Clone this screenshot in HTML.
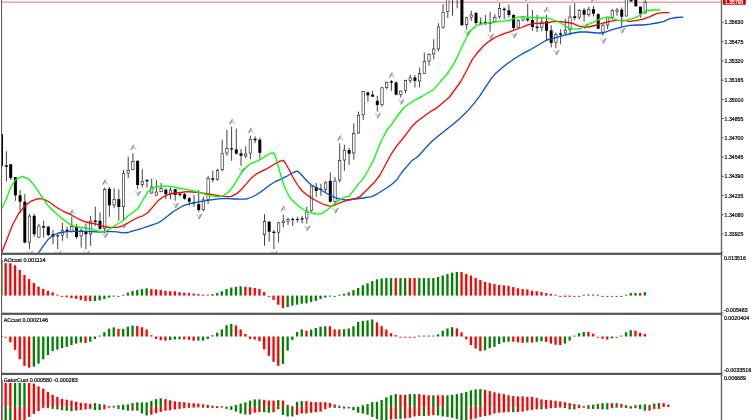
<!DOCTYPE html>
<html lang="en"><head><meta charset="utf-8"><title>Chart</title>
<style>html,body{margin:0;padding:0;background:#fff;overflow:hidden}svg{display:block;will-change:transform}text{font-family:"Liberation Sans", sans-serif}</style></head><body>
<svg width="752" height="420" viewBox="0 0 752 420">
<rect x="0" y="0" width="752" height="420" fill="#fff"/>
<defs>
<clipPath id="cm"><rect x="2.0" y="0" width="719.2" height="252.8"/></clipPath>
<clipPath id="c1"><rect x="2.0" y="254.8" width="719.2" height="58"/></clipPath>
<clipPath id="c2"><rect x="2.0" y="314.8" width="719.2" height="58.1"/></clipPath>
<clipPath id="c3"><rect x="2.0" y="374.9" width="719.2" height="45.1"/></clipPath>
<filter id="bl" x="-2%" y="-2%" width="104%" height="104%"><feGaussianBlur stdDeviation="0.33"/></filter>
<filter id="bl2" x="-2%" y="-2%" width="104%" height="104%"><feGaussianBlur stdDeviation="0.28"/></filter>
</defs>
<g filter="url(#bl)">
<g clip-path="url(#cm)">
<line x1="0" y1="2.15" x2="721.4" y2="2.15" stroke="#f3a1a1" stroke-width="1.5"/>
<path d="M1.3,134.3 V166 M6.4,151.3 V181.3 M10.7,164 V180 M15.4,177 V200.8 M20.1,190 V213.3 M24.8,194.2 V243.3 M29.5,214.2 V249.2 M34.2,213.7 V236.7 M38.9,223.7 V237.8 M43.6,220.8 V237.5 M48.3,225.8 V236.3 M53,230 V244.2 M57.7,233.3 V249.2 M62.4,222.5 V240.8 M67.1,226.7 V238.3 M71.8,216.7 V232.5 M76.5,224.2 V238.7 M81.2,228.7 V247.5 M85.9,223.3 V249.2 M90.6,215.8 V245.8 M95.3,206.7 V225.8 M100,212.5 V229.7 M104.7,187.5 V233.3 M109.4,187 V216.7 M114.1,188.3 V208.3 M118.8,189.2 V220.8 M123.5,170 V220.8 M128.2,156.7 V178 M132.9,153.3 V170.3 M137.6,160.5 V189.2 M142.3,169.2 V187.5 M147,179.2 V187.5 M151.7,178.7 V193.6 M156.4,180 V195.8 M161.1,183 V192.3 M165.8,188.7 V199.2 M170.5,187.5 V199.2 M175.2,189 V200.8 M179.9,193 V196.7 M184.6,193 V199.7 M189.3,196.7 V205.8 M194,195 V206.7 M198.7,190 V212 M203.4,196.7 V211.3 M208.1,175.8 V204 M212.8,170.8 V182.5 M217.5,168.7 V180.8 M222.2,139.7 V171.3 M226.9,129.9 V155.6 M231.6,126.6 V160.8 M236.3,128.6 V154.5 M241,149 V165.8 M245.7,146.3 V158.3 M250.4,135.8 V159.2 M255.1,136.4 V143.2 M259.8,137.7 V158.7 M264.5,214.2 V245.8 M269.2,220.8 V241.7 M273.9,230 V249.2 M278.6,222.3 V242.5 M283.3,214.7 V227.5 M288,217.5 V225 M292.7,217.5 V225.8 M297.4,216.7 V222.5 M302.1,215.8 V223.3 M306.8,206.7 V223.7 M311.5,185.5 V211.7 M316.2,183 V196.7 M320.9,183.7 V195.8 M325.6,181.3 V193 M330.3,172.5 V202.5 M335,177 V204.2 M339.7,143.3 V182.5 M344.4,144.7 V170.8 M349.1,148 V165 M353.8,123.3 V159.7 M358.5,111.7 V133.6 M363.2,91 V120 M367.9,91.3 V101.7 M372.6,90.8 V96.7 M377.3,95.8 V111.7 M382,86.7 V106.7 M386.7,81.7 V89.2 M391.4,80 V90.8 M396.1,81.3 V95.3 M400.8,90.5 V97.5 M405.5,79.7 V93.3 M410.2,74.7 V83.3 M414.9,75 V87.5 M419.6,67.5 V87.5 M424.3,52.5 V74 M429,53.3 V65.8 M433.7,39.2 V59.2 M438.4,23.3 V51.3 M443.1,4.2 V28.7 M447.8,-5 V18 M452.5,-5 V15.8 M457.2,-5 V8.3 M461.9,-5 V25.6 M466.6,16.7 V29.7 M471.3,10.8 V20.8 M476,11.7 V25 M480.7,17.5 V24.2 M485.4,15 V25 M490.1,11.7 V31.7 M494.8,14.2 V22.3 M499.5,3 V18.7 M504.2,7.5 V19.2 M508.9,4.7 V17.5 M513.6,14.2 V30 M518.3,19.2 V28.3 M523,15.8 V21.3 M527.7,3.7 V21.7 M532.4,10 V30.8 M537.1,14.7 V32 M541.8,17.5 V31.3 M546.5,14.7 V40.8 M551.2,25.3 V47.5 M555.9,32.5 V48.3 M560.6,29.2 V44.2 M565.3,18.7 V35 M570,5.3 V35.3 M574.7,3 V20.3 M579.4,9.2 V19.2 M584.1,8 V21.7 M588.8,6.7 V16.7 M593.5,6 V16.5 M598.2,13.3 V29.2 M602.9,23.3 V35.8 M607.6,16.7 V29.2 M612.3,9.2 V18.3 M617,8 V15.8 M621.7,7.5 V26.7 M626.4,-5 V16.6 M631.1,-5 V1.5 M635.8,-5 V6.6 M640.5,6.5 V17.5 M645.2,-1 V13.5" stroke="#2e2e2e" stroke-width="0.9" fill="none"/>
<g fill="#000"><rect x="-0.2" y="134.3" width="3" height="31.7"/><rect x="4.9" y="165.4" width="3" height="1.4"/><rect x="9.2" y="164.3" width="3" height="13.7"/><rect x="13.9" y="177.2" width="3" height="18.1"/><rect x="18.6" y="195.3" width="3" height="6.4"/><rect x="23.3" y="201.7" width="3" height="40.8"/><rect x="32.7" y="215.8" width="3" height="18.4"/><rect x="42.1" y="226.2" width="3" height="1.5"/><rect x="46.8" y="226.7" width="3" height="8.3"/><rect x="51.5" y="234.2" width="3" height="2.5"/><rect x="56.2" y="235.3" width="3" height="1"/><rect x="65.6" y="229.7" width="3" height="2"/><rect x="75" y="226.3" width="3" height="10.7"/><rect x="84.4" y="231.7" width="3" height="2.5"/><rect x="93.8" y="220.5" width="3" height="1.5"/><rect x="98.5" y="220.8" width="3" height="7.9"/><rect x="107.9" y="188.7" width="3" height="16.6"/><rect x="117.3" y="199.2" width="3" height="7.8"/><rect x="136.1" y="160.8" width="3" height="24.2"/><rect x="145.5" y="180" width="3" height="1.3"/><rect x="164.3" y="189.7" width="3" height="4.5"/><rect x="173.7" y="189.2" width="3" height="5.8"/><rect x="178.4" y="193.7" width="3" height="1.3"/><rect x="183.1" y="194.2" width="3" height="4.5"/><rect x="187.8" y="198.3" width="3" height="3.4"/><rect x="192.5" y="202" width="3" height="1.3"/><rect x="197.2" y="204.2" width="3" height="5.8"/><rect x="211.3" y="178.3" width="3" height="1.4"/><rect x="230.1" y="148.3" width="3" height="1.2"/><rect x="234.8" y="149.5" width="3" height="4.2"/><rect x="239.5" y="153.3" width="3" height="2.5"/><rect x="253.6" y="138.8" width="3" height="1.5"/><rect x="258.3" y="139.7" width="3" height="13.1"/><rect x="267.7" y="221.7" width="3" height="10"/><rect x="272.4" y="231.7" width="3" height="1.3"/><rect x="291.2" y="219" width="3" height="1"/><rect x="295.9" y="219" width="3" height="1"/><rect x="300.6" y="218.3" width="3" height="1.2"/><rect x="314.7" y="187" width="3" height="3.8"/><rect x="319.4" y="188.7" width="3" height="1"/><rect x="328.8" y="180.8" width="3" height="20.9"/><rect x="347.6" y="150" width="3" height="3.7"/><rect x="366.4" y="92.5" width="3" height="2.8"/><rect x="371.1" y="94.7" width="3" height="2"/><rect x="375.8" y="100.8" width="3" height="4.2"/><rect x="389.9" y="81.3" width="3" height="1.4"/><rect x="394.6" y="82.5" width="3" height="12.2"/><rect x="413.4" y="77.5" width="3" height="3.3"/><rect x="455.7" y="-5" width="3" height="2"/><rect x="460.4" y="-5" width="3" height="30.3"/><rect x="474.5" y="13" width="3" height="10"/><rect x="479.2" y="22.5" width="3" height="0.8"/><rect x="483.9" y="22" width="3" height="1.3"/><rect x="488.6" y="22.5" width="3" height="1.2"/><rect x="502.7" y="8.7" width="3" height="1.3"/><rect x="507.4" y="10.3" width="3" height="4.7"/><rect x="512.1" y="15" width="3" height="13"/><rect x="526.2" y="18.7" width="3" height="1.6"/><rect x="530.9" y="20" width="3" height="7"/><rect x="535.6" y="26.7" width="3" height="1.3"/><rect x="545" y="21.3" width="3" height="9.5"/><rect x="549.7" y="30.3" width="3" height="12.7"/><rect x="559.1" y="33.3" width="3" height="1.4"/><rect x="573.2" y="16.3" width="3" height="1.7"/><rect x="582.6" y="10" width="3" height="4.7"/><rect x="592" y="9.2" width="3" height="4.5"/><rect x="596.7" y="14.2" width="3" height="14.5"/><rect x="620.2" y="9.7" width="3" height="7"/><rect x="629.6" y="-5" width="3" height="6.3"/><rect x="634.3" y="-5" width="3" height="11.3"/><rect x="639" y="6.7" width="3" height="7"/></g>
<rect x="2.0" y="134.3" width="1.0" height="31.7" fill="#000"/>
<g fill="#fff" stroke="#262626" stroke-width="0.65"><rect x="28.3" y="216.1" width="2.4" height="26.1"/><rect x="37.7" y="226.1" width="2.4" height="11.1"/><rect x="61.2" y="230.6" width="2.4" height="4.6"/><rect x="70.6" y="226.6" width="2.4" height="4.8"/><rect x="80" y="230.3" width="2.4" height="5.7"/><rect x="89.4" y="221.1" width="2.4" height="12.8"/><rect x="103.5" y="189.5" width="2.4" height="38.9"/><rect x="112.9" y="199.5" width="2.4" height="5.5"/><rect x="122.3" y="173.6" width="2.4" height="33.1"/><rect x="127" y="170.3" width="2.4" height="2.7"/><rect x="131.7" y="161.6" width="2.4" height="8.1"/><rect x="141.1" y="181.6" width="2.4" height="3.1"/><rect x="150.5" y="187" width="2.4" height="6"/><rect x="155.2" y="192" width="2.4" height="3.2"/><rect x="159.9" y="188.6" width="2.4" height="3.1"/><rect x="169.3" y="190" width="2.4" height="3.9"/><rect x="202.2" y="199.8" width="2.4" height="9.9"/><rect x="206.9" y="178.6" width="2.4" height="21.1"/><rect x="216.3" y="170.3" width="2.4" height="9.1"/><rect x="221" y="153.7" width="2.4" height="16"/><rect x="225.7" y="148.5" width="2.4" height="4.6"/><rect x="244.5" y="154" width="2.4" height="2"/><rect x="249.2" y="139.6" width="2.4" height="13.5"/><rect x="263.3" y="221.6" width="2.4" height="13.1"/><rect x="277.4" y="222.8" width="2.4" height="9.4"/><rect x="282.1" y="221.1" width="2.4" height="1.6"/><rect x="286.8" y="219.5" width="2.4" height="1.9"/><rect x="305.6" y="212" width="2.4" height="6"/><rect x="310.3" y="186.1" width="2.4" height="24.4"/><rect x="324.4" y="182.8" width="2.4" height="6.6"/><rect x="333.8" y="181.1" width="2.4" height="20.3"/><rect x="338.5" y="160.3" width="2.4" height="19.7"/><rect x="343.2" y="150.3" width="2.4" height="9.7"/><rect x="352.6" y="133.6" width="2.4" height="19.4"/><rect x="357.3" y="115.3" width="2.4" height="17.7"/><rect x="362" y="91.6" width="2.4" height="23.1"/><rect x="380.8" y="87.8" width="2.4" height="16.9"/><rect x="385.5" y="82.3" width="2.4" height="5.4"/><rect x="399.6" y="91.1" width="2.4" height="3.3"/><rect x="404.3" y="80.6" width="2.4" height="9.9"/><rect x="409" y="77.8" width="2.4" height="2.7"/><rect x="418.4" y="73.6" width="2.4" height="7.4"/><rect x="423.1" y="61.6" width="2.4" height="11.8"/><rect x="427.8" y="54.5" width="2.4" height="6.5"/><rect x="432.5" y="49" width="2.4" height="4.9"/><rect x="437.2" y="27" width="2.4" height="21.9"/><rect x="441.9" y="12.3" width="2.4" height="14.9"/><rect x="446.6" y="-2.7" width="2.4" height="14.1"/><rect x="451.3" y="-4.7" width="2.4" height="1.4"/><rect x="465.4" y="17.8" width="2.4" height="6.9"/><rect x="470.1" y="15" width="2.4" height="2.2"/><rect x="493.6" y="17.3" width="2.4" height="4.4"/><rect x="498.3" y="8.6" width="2.4" height="7.8"/><rect x="517.1" y="20.3" width="2.4" height="6.9"/><rect x="521.8" y="17" width="2.4" height="3"/><rect x="540.6" y="22" width="2.4" height="5.2"/><rect x="554.7" y="34.5" width="2.4" height="7.7"/><rect x="564.1" y="30.6" width="2.4" height="2.4"/><rect x="568.8" y="17" width="2.4" height="12.7"/><rect x="578.2" y="10.6" width="2.4" height="6.6"/><rect x="587.6" y="9.5" width="2.4" height="5.2"/><rect x="601.7" y="25.3" width="2.4" height="6.9"/><rect x="606.4" y="17.8" width="2.4" height="7.2"/><rect x="611.1" y="10.6" width="2.4" height="6.6"/><rect x="615.8" y="10" width="2.4" height="1.4"/><rect x="625.2" y="-4.7" width="2.4" height="20.7"/><rect x="644" y="2.3" width="2.4" height="10.7"/></g>
<g transform="translate(105.35,182.3)"><path d="M0,-3.0 L3.7,2.9 L0,1.0 L-3.7,2.9 Z" fill="#c6c9d1" opacity="0.9"/><path d="M-3.3,2.5 L-0.6,-2.4" stroke="#f0d2b4" stroke-width="0.6" fill="none"/><path d="M-2.3,1.9 L0,-2.5" stroke="#6b6f7b" stroke-width="0.85" fill="none" stroke-linecap="round"/><path d="M0.5,0.6 L2.6,2.3" stroke="#eed9c8" stroke-width="0.5" fill="none"/></g>
<g transform="translate(72.45,212.5)"><path d="M0,-3.0 L3.7,2.9 L0,1.0 L-3.7,2.9 Z" fill="#c6c9d1" opacity="0.9"/><path d="M-3.3,2.5 L-0.6,-2.4" stroke="#f0d2b4" stroke-width="0.6" fill="none"/><path d="M-2.3,1.9 L0,-2.5" stroke="#6b6f7b" stroke-width="0.85" fill="none" stroke-linecap="round"/><path d="M0.5,0.6 L2.6,2.3" stroke="#eed9c8" stroke-width="0.5" fill="none"/></g>
<g transform="translate(29.85,253.6)"><path d="M0,3.0 L-3.7,-2.9 L0,-1.0 L3.7,-2.9 Z" fill="#c8cad0" opacity="0.9"/><path d="M3.3,-2.5 L0.6,2.4" stroke="#b9cdea" stroke-width="0.6" fill="none"/><path d="M2.3,-1.9 L0,2.5" stroke="#6c6c74" stroke-width="0.85" fill="none" stroke-linecap="round"/><path d="M-0.5,-0.6 L-2.6,-2.3" stroke="#eed9c8" stroke-width="0.5" fill="none"/></g>
<g transform="translate(58.05,253.6)"><path d="M0,3.0 L-3.7,-2.9 L0,-1.0 L3.7,-2.9 Z" fill="#c8cad0" opacity="0.9"/><path d="M3.3,-2.5 L0.6,2.4" stroke="#b9cdea" stroke-width="0.6" fill="none"/><path d="M2.3,-1.9 L0,2.5" stroke="#6c6c74" stroke-width="0.85" fill="none" stroke-linecap="round"/><path d="M-0.5,-0.6 L-2.6,-2.3" stroke="#eed9c8" stroke-width="0.5" fill="none"/></g>
<g transform="translate(86.25,253.6)"><path d="M0,3.0 L-3.7,-2.9 L0,-1.0 L3.7,-2.9 Z" fill="#c8cad0" opacity="0.9"/><path d="M3.3,-2.5 L0.6,2.4" stroke="#b9cdea" stroke-width="0.6" fill="none"/><path d="M2.3,-1.9 L0,2.5" stroke="#6c6c74" stroke-width="0.85" fill="none" stroke-linecap="round"/><path d="M-0.5,-0.6 L-2.6,-2.3" stroke="#eed9c8" stroke-width="0.5" fill="none"/></g>
<g transform="translate(105.05,235.3)"><path d="M0,3.0 L-3.7,-2.9 L0,-1.0 L3.7,-2.9 Z" fill="#c8cad0" opacity="0.9"/><path d="M3.3,-2.5 L0.6,2.4" stroke="#b9cdea" stroke-width="0.6" fill="none"/><path d="M2.3,-1.9 L0,2.5" stroke="#6c6c74" stroke-width="0.85" fill="none" stroke-linecap="round"/><path d="M-0.5,-0.6 L-2.6,-2.3" stroke="#eed9c8" stroke-width="0.5" fill="none"/></g>
<g transform="translate(133.55,147.5)"><path d="M0,-3.0 L3.7,2.9 L0,1.0 L-3.7,2.9 Z" fill="#c6c9d1" opacity="0.9"/><path d="M-3.3,2.5 L-0.6,-2.4" stroke="#f0d2b4" stroke-width="0.6" fill="none"/><path d="M-2.3,1.9 L0,-2.5" stroke="#6b6f7b" stroke-width="0.85" fill="none" stroke-linecap="round"/><path d="M0.5,0.6 L2.6,2.3" stroke="#eed9c8" stroke-width="0.5" fill="none"/></g>
<g transform="translate(232.25,121.9)"><path d="M0,-3.0 L3.7,2.9 L0,1.0 L-3.7,2.9 Z" fill="#c6c9d1" opacity="0.9"/><path d="M-3.3,2.5 L-0.6,-2.4" stroke="#f0d2b4" stroke-width="0.6" fill="none"/><path d="M-2.3,1.9 L0,-2.5" stroke="#6b6f7b" stroke-width="0.85" fill="none" stroke-linecap="round"/><path d="M0.5,0.6 L2.6,2.3" stroke="#eed9c8" stroke-width="0.5" fill="none"/></g>
<g transform="translate(251.05,130.7)"><path d="M0,-3.0 L3.7,2.9 L0,1.0 L-3.7,2.9 Z" fill="#c6c9d1" opacity="0.9"/><path d="M-3.3,2.5 L-0.6,-2.4" stroke="#f0d2b4" stroke-width="0.6" fill="none"/><path d="M-2.3,1.9 L0,-2.5" stroke="#6b6f7b" stroke-width="0.85" fill="none" stroke-linecap="round"/><path d="M0.5,0.6 L2.6,2.3" stroke="#eed9c8" stroke-width="0.5" fill="none"/></g>
<g transform="translate(137.95,193.3)"><path d="M0,3.0 L-3.7,-2.9 L0,-1.0 L3.7,-2.9 Z" fill="#c8cad0" opacity="0.9"/><path d="M3.3,-2.5 L0.6,2.4" stroke="#b9cdea" stroke-width="0.6" fill="none"/><path d="M2.3,-1.9 L0,2.5" stroke="#6c6c74" stroke-width="0.85" fill="none" stroke-linecap="round"/><path d="M-0.5,-0.6 L-2.6,-2.3" stroke="#eed9c8" stroke-width="0.5" fill="none"/></g>
<g transform="translate(175.55,205.3)"><path d="M0,3.0 L-3.7,-2.9 L0,-1.0 L3.7,-2.9 Z" fill="#c8cad0" opacity="0.9"/><path d="M3.3,-2.5 L0.6,2.4" stroke="#b9cdea" stroke-width="0.6" fill="none"/><path d="M2.3,-1.9 L0,2.5" stroke="#6c6c74" stroke-width="0.85" fill="none" stroke-linecap="round"/><path d="M-0.5,-0.6 L-2.6,-2.3" stroke="#eed9c8" stroke-width="0.5" fill="none"/></g>
<g transform="translate(199.05,216.3)"><path d="M0,3.0 L-3.7,-2.9 L0,-1.0 L3.7,-2.9 Z" fill="#c8cad0" opacity="0.9"/><path d="M3.3,-2.5 L0.6,2.4" stroke="#b9cdea" stroke-width="0.6" fill="none"/><path d="M2.3,-1.9 L0,2.5" stroke="#6c6c74" stroke-width="0.85" fill="none" stroke-linecap="round"/><path d="M-0.5,-0.6 L-2.6,-2.3" stroke="#eed9c8" stroke-width="0.5" fill="none"/></g>
<g transform="translate(123.85,225.3)"><path d="M0,3.0 L-3.7,-2.9 L0,-1.0 L3.7,-2.9 Z" fill="#c8cad0" opacity="0.9"/><path d="M3.3,-2.5 L0.6,2.4" stroke="#b9cdea" stroke-width="0.6" fill="none"/><path d="M2.3,-1.9 L0,2.5" stroke="#6c6c74" stroke-width="0.85" fill="none" stroke-linecap="round"/><path d="M-0.5,-0.6 L-2.6,-2.3" stroke="#eed9c8" stroke-width="0.5" fill="none"/></g>
<g transform="translate(241.35,170.5)"><path d="M0,3.0 L-3.7,-2.9 L0,-1.0 L3.7,-2.9 Z" fill="#c8cad0" opacity="0.9"/><path d="M3.3,-2.5 L0.6,2.4" stroke="#b9cdea" stroke-width="0.6" fill="none"/><path d="M2.3,-1.9 L0,2.5" stroke="#6c6c74" stroke-width="0.85" fill="none" stroke-linecap="round"/><path d="M-0.5,-0.6 L-2.6,-2.3" stroke="#eed9c8" stroke-width="0.5" fill="none"/></g>
<g transform="translate(283.95,208.8)"><path d="M0,-3.0 L3.7,2.9 L0,1.0 L-3.7,2.9 Z" fill="#c6c9d1" opacity="0.9"/><path d="M-3.3,2.5 L-0.6,-2.4" stroke="#f0d2b4" stroke-width="0.6" fill="none"/><path d="M-2.3,1.9 L0,-2.5" stroke="#6b6f7b" stroke-width="0.85" fill="none" stroke-linecap="round"/><path d="M0.5,0.6 L2.6,2.3" stroke="#eed9c8" stroke-width="0.5" fill="none"/></g>
<g transform="translate(274.25,253.6)"><path d="M0,3.0 L-3.7,-2.9 L0,-1.0 L3.7,-2.9 Z" fill="#c8cad0" opacity="0.9"/><path d="M3.3,-2.5 L0.6,2.4" stroke="#b9cdea" stroke-width="0.6" fill="none"/><path d="M2.3,-1.9 L0,2.5" stroke="#6c6c74" stroke-width="0.85" fill="none" stroke-linecap="round"/><path d="M-0.5,-0.6 L-2.6,-2.3" stroke="#eed9c8" stroke-width="0.5" fill="none"/></g>
<g transform="translate(307.15,228)"><path d="M0,3.0 L-3.7,-2.9 L0,-1.0 L3.7,-2.9 Z" fill="#c8cad0" opacity="0.9"/><path d="M3.3,-2.5 L0.6,2.4" stroke="#b9cdea" stroke-width="0.6" fill="none"/><path d="M2.3,-1.9 L0,2.5" stroke="#6c6c74" stroke-width="0.85" fill="none" stroke-linecap="round"/><path d="M-0.5,-0.6 L-2.6,-2.3" stroke="#eed9c8" stroke-width="0.5" fill="none"/></g>
<g transform="translate(335.35,210.5)"><path d="M0,3.0 L-3.7,-2.9 L0,-1.0 L3.7,-2.9 Z" fill="#c8cad0" opacity="0.9"/><path d="M3.3,-2.5 L0.6,2.4" stroke="#b9cdea" stroke-width="0.6" fill="none"/><path d="M2.3,-1.9 L0,2.5" stroke="#6c6c74" stroke-width="0.85" fill="none" stroke-linecap="round"/><path d="M-0.5,-0.6 L-2.6,-2.3" stroke="#eed9c8" stroke-width="0.5" fill="none"/></g>
<g transform="translate(340.35,138.3)"><path d="M0,-3.0 L3.7,2.9 L0,1.0 L-3.7,2.9 Z" fill="#c6c9d1" opacity="0.9"/><path d="M-3.3,2.5 L-0.6,-2.4" stroke="#f0d2b4" stroke-width="0.6" fill="none"/><path d="M-2.3,1.9 L0,-2.5" stroke="#6b6f7b" stroke-width="0.85" fill="none" stroke-linecap="round"/><path d="M0.5,0.6 L2.6,2.3" stroke="#eed9c8" stroke-width="0.5" fill="none"/></g>
<g transform="translate(392.05,75.3)"><path d="M0,-3.0 L3.7,2.9 L0,1.0 L-3.7,2.9 Z" fill="#c6c9d1" opacity="0.9"/><path d="M-3.3,2.5 L-0.6,-2.4" stroke="#f0d2b4" stroke-width="0.6" fill="none"/><path d="M-2.3,1.9 L0,-2.5" stroke="#6b6f7b" stroke-width="0.85" fill="none" stroke-linecap="round"/><path d="M0.5,0.6 L2.6,2.3" stroke="#eed9c8" stroke-width="0.5" fill="none"/></g>
<g transform="translate(377.65,115.5)"><path d="M0,3.0 L-3.7,-2.9 L0,-1.0 L3.7,-2.9 Z" fill="#c8cad0" opacity="0.9"/><path d="M3.3,-2.5 L0.6,2.4" stroke="#b9cdea" stroke-width="0.6" fill="none"/><path d="M2.3,-1.9 L0,2.5" stroke="#6c6c74" stroke-width="0.85" fill="none" stroke-linecap="round"/><path d="M-0.5,-0.6 L-2.6,-2.3" stroke="#eed9c8" stroke-width="0.5" fill="none"/></g>
<g transform="translate(401.15,101.7)"><path d="M0,3.0 L-3.7,-2.9 L0,-1.0 L3.7,-2.9 Z" fill="#c8cad0" opacity="0.9"/><path d="M3.3,-2.5 L0.6,2.4" stroke="#b9cdea" stroke-width="0.6" fill="none"/><path d="M2.3,-1.9 L0,2.5" stroke="#6c6c74" stroke-width="0.85" fill="none" stroke-linecap="round"/><path d="M-0.5,-0.6 L-2.6,-2.3" stroke="#eed9c8" stroke-width="0.5" fill="none"/></g>
<g transform="translate(466.95,33)"><path d="M0,3.0 L-3.7,-2.9 L0,-1.0 L3.7,-2.9 Z" fill="#c8cad0" opacity="0.9"/><path d="M3.3,-2.5 L0.6,2.4" stroke="#b9cdea" stroke-width="0.6" fill="none"/><path d="M2.3,-1.9 L0,2.5" stroke="#6c6c74" stroke-width="0.85" fill="none" stroke-linecap="round"/><path d="M-0.5,-0.6 L-2.6,-2.3" stroke="#eed9c8" stroke-width="0.5" fill="none"/></g>
<g transform="translate(547.15,9.8)"><path d="M0,-3.0 L3.7,2.9 L0,1.0 L-3.7,2.9 Z" fill="#c6c9d1" opacity="0.9"/><path d="M-3.3,2.5 L-0.6,-2.4" stroke="#f0d2b4" stroke-width="0.6" fill="none"/><path d="M-2.3,1.9 L0,-2.5" stroke="#6b6f7b" stroke-width="0.85" fill="none" stroke-linecap="round"/><path d="M0.5,0.6 L2.6,2.3" stroke="#eed9c8" stroke-width="0.5" fill="none"/></g>
<g transform="translate(528.35,-1.2)"><path d="M0,-3.0 L3.7,2.9 L0,1.0 L-3.7,2.9 Z" fill="#c6c9d1" opacity="0.9"/><path d="M-3.3,2.5 L-0.6,-2.4" stroke="#f0d2b4" stroke-width="0.6" fill="none"/><path d="M-2.3,1.9 L0,-2.5" stroke="#6b6f7b" stroke-width="0.85" fill="none" stroke-linecap="round"/><path d="M0.5,0.6 L2.6,2.3" stroke="#eed9c8" stroke-width="0.5" fill="none"/></g>
<g transform="translate(575.35,-1.5)"><path d="M0,-3.0 L3.7,2.9 L0,1.0 L-3.7,2.9 Z" fill="#c6c9d1" opacity="0.9"/><path d="M-3.3,2.5 L-0.6,-2.4" stroke="#f0d2b4" stroke-width="0.6" fill="none"/><path d="M-2.3,1.9 L0,-2.5" stroke="#6b6f7b" stroke-width="0.85" fill="none" stroke-linecap="round"/><path d="M0.5,0.6 L2.6,2.3" stroke="#eed9c8" stroke-width="0.5" fill="none"/></g>
<g transform="translate(500.15,-1.8)"><path d="M0,-3.0 L3.7,2.9 L0,1.0 L-3.7,2.9 Z" fill="#c6c9d1" opacity="0.9"/><path d="M-3.3,2.5 L-0.6,-2.4" stroke="#f0d2b4" stroke-width="0.6" fill="none"/><path d="M-2.3,1.9 L0,-2.5" stroke="#6b6f7b" stroke-width="0.85" fill="none" stroke-linecap="round"/><path d="M0.5,0.6 L2.6,2.3" stroke="#eed9c8" stroke-width="0.5" fill="none"/></g>
<g transform="translate(594.15,-0.6)"><path d="M0,-3.0 L3.7,2.9 L0,1.0 L-3.7,2.9 Z" fill="#c6c9d1" opacity="0.9"/><path d="M-3.3,2.5 L-0.6,-2.4" stroke="#f0d2b4" stroke-width="0.6" fill="none"/><path d="M-2.3,1.9 L0,-2.5" stroke="#6b6f7b" stroke-width="0.85" fill="none" stroke-linecap="round"/><path d="M0.5,0.6 L2.6,2.3" stroke="#eed9c8" stroke-width="0.5" fill="none"/></g>
<g transform="translate(490.45,36.5)"><path d="M0,3.0 L-3.7,-2.9 L0,-1.0 L3.7,-2.9 Z" fill="#c8cad0" opacity="0.9"/><path d="M3.3,-2.5 L0.6,2.4" stroke="#b9cdea" stroke-width="0.6" fill="none"/><path d="M2.3,-1.9 L0,2.5" stroke="#6c6c74" stroke-width="0.85" fill="none" stroke-linecap="round"/><path d="M-0.5,-0.6 L-2.6,-2.3" stroke="#eed9c8" stroke-width="0.5" fill="none"/></g>
<g transform="translate(513.95,35.3)"><path d="M0,3.0 L-3.7,-2.9 L0,-1.0 L3.7,-2.9 Z" fill="#c8cad0" opacity="0.9"/><path d="M3.3,-2.5 L0.6,2.4" stroke="#b9cdea" stroke-width="0.6" fill="none"/><path d="M2.3,-1.9 L0,2.5" stroke="#6c6c74" stroke-width="0.85" fill="none" stroke-linecap="round"/><path d="M-0.5,-0.6 L-2.6,-2.3" stroke="#eed9c8" stroke-width="0.5" fill="none"/></g>
<g transform="translate(556.25,52.3)"><path d="M0,3.0 L-3.7,-2.9 L0,-1.0 L3.7,-2.9 Z" fill="#c8cad0" opacity="0.9"/><path d="M3.3,-2.5 L0.6,2.4" stroke="#b9cdea" stroke-width="0.6" fill="none"/><path d="M2.3,-1.9 L0,2.5" stroke="#6c6c74" stroke-width="0.85" fill="none" stroke-linecap="round"/><path d="M-0.5,-0.6 L-2.6,-2.3" stroke="#eed9c8" stroke-width="0.5" fill="none"/></g>
<g transform="translate(584.45,26)"><path d="M0,3.0 L-3.7,-2.9 L0,-1.0 L3.7,-2.9 Z" fill="#c8cad0" opacity="0.9"/><path d="M3.3,-2.5 L0.6,2.4" stroke="#b9cdea" stroke-width="0.6" fill="none"/><path d="M2.3,-1.9 L0,2.5" stroke="#6c6c74" stroke-width="0.85" fill="none" stroke-linecap="round"/><path d="M-0.5,-0.6 L-2.6,-2.3" stroke="#eed9c8" stroke-width="0.5" fill="none"/></g>
<g transform="translate(603.25,40.7)"><path d="M0,3.0 L-3.7,-2.9 L0,-1.0 L3.7,-2.9 Z" fill="#c8cad0" opacity="0.9"/><path d="M3.3,-2.5 L0.6,2.4" stroke="#b9cdea" stroke-width="0.6" fill="none"/><path d="M2.3,-1.9 L0,2.5" stroke="#6c6c74" stroke-width="0.85" fill="none" stroke-linecap="round"/><path d="M-0.5,-0.6 L-2.6,-2.3" stroke="#eed9c8" stroke-width="0.5" fill="none"/></g>
<g transform="translate(622.05,30.4)"><path d="M0,3.0 L-3.7,-2.9 L0,-1.0 L3.7,-2.9 Z" fill="#c8cad0" opacity="0.9"/><path d="M3.3,-2.5 L0.6,2.4" stroke="#b9cdea" stroke-width="0.6" fill="none"/><path d="M2.3,-1.9 L0,2.5" stroke="#6c6c74" stroke-width="0.85" fill="none" stroke-linecap="round"/><path d="M-0.5,-0.6 L-2.6,-2.3" stroke="#eed9c8" stroke-width="0.5" fill="none"/></g>
<polyline points="38.3,253.3 43.3,245.8 48.3,239.2 53.3,235 58.3,233 66.7,231.7 75,231.3 83.3,231.3 91.7,231.7 100,232 108.3,231.3 116.7,231.9 123,232.8 128,232.5 133,230.8 138,229.7 143,228 148,226.3 153,224.7 158,223 163,219.7 168,215.8 173,211.7 178,208.7 183,205.8 188,204.2 194.7,202.7 201.3,201.3 208,200.3 214.7,199.3 221.3,198.7 228,198.7 234.7,199 241,199.2 246,199.2 251,197.5 256,195 261,191.7 266,188 271,184.2 276,181.3 281,179.2 286,176.7 291,173.8 294.3,172 297.7,171.2 301,174.2 304.3,178 307.7,181.7 311,184.7 316,187.5 321,190 326,193 331,195.8 336,198 341,199.3 346.7,200 355,199.2 363.3,198 371.7,196.7 376.7,194.2 383.3,190 390,185.8 396.7,180 401.7,172.5 406.7,166.7 411.7,160.8 416.7,157.5 421.7,152.5 426.7,146.7 431.7,141.5 436.7,137.3 441.7,133.3 446.7,129.2 452.3,125 459,119.2 465.7,112.8 468.3,110.1 474.1,103.4 479.8,95.8 485.5,87.2 491.2,78.6 496,72.9 499.8,69.7 503,67 506.5,64.3 514.1,58.8 521.7,54.2 529.4,50.2 537,45.8 541,43.5 546.7,40 553.3,38.3 560,36.3 566.7,34.7 573.3,33 580,32 586.7,32 596.7,33 603.3,33 610,30.3 616.7,28.3 623.3,26.7 630,25.3 636.7,25 643.3,25 650,24.2 656.7,23 663.3,21.7 670,18.7 676.7,17.5 682.8,17.2" fill="none" stroke="#0050dc" stroke-width="1.3" stroke-linejoin="round" stroke-linecap="round"/>
<polyline points="1.7,252.5 6.7,240 12.5,225 18.3,214.2 25,205.8 31.7,200.8 38.3,198.7 43.7,199.2 50,202.5 56.7,207.5 63.3,211.3 70,214.2 76.7,218 83.3,221.2 90,223 96.7,224.2 103.3,226.3 110,227.5 116.7,227.3 123,225.8 128,223 133,220 138,217.5 143,215.8 148,212.5 153,206.7 158,200.8 163,197 168,194.7 174.7,193 181.3,192.5 186.3,191.7 193,192 199.7,192.7 206.3,193.7 213,194.7 219.7,195.8 226.3,196.7 231.3,196.3 236.3,193.9 241,190 246,184.2 251,178.3 256,174.2 261,171.7 266,169.2 271,166.3 276,163.3 280.2,161.2 283.5,160.3 286,164.2 289.3,170 292.7,176.7 296,182.5 299.3,187.5 302.7,191.5 307.7,195.4 312.7,198.8 317.7,201.5 322.7,204 327.7,205.7 331.8,206.3 336,204.5 341,202.3 346,200.6 351,199.5 356,198.3 360,196.7 365,191.7 370,186.7 375,181.7 380,175 386.7,162.5 391.7,153.3 396.7,145.8 401.7,140 406.7,133.3 411.7,126.7 416.7,121.7 421.7,118 426.7,114.2 431.7,110.8 435.7,108.7 442.3,103.3 449,97.5 455,89.5 460.7,81.5 466.4,71 472.2,59.6 477.9,52.2 483.6,45.8 489.3,41.1 495,37.5 502.7,34.2 510.3,31.6 516,29.5 521.7,27.5 528.3,24.7 535,23.3 541.7,23.3 548.3,22.5 553.3,21.7 558.3,21.3 563.3,22 568.3,22.5 573.3,23.7 578.3,25.8 583.3,27 588.3,27 596.7,25 603.3,23 610,21.3 616.7,20.3 623.3,20.3 630,21.3 636.7,20.3 643.3,19.2 650,16.7 656.7,13.7 661.7,12.7 668.7,12.7" fill="none" stroke="#ff0000" stroke-width="1.3" stroke-linejoin="round" stroke-linecap="round"/>
<polyline points="1.7,208.3 6.7,198.3 10.8,187 15.8,179.5 22.5,176.3 28.3,178.8 33.3,184.2 38.3,191.3 43.3,199.2 48.3,205.8 55,212.5 61.7,218.3 68.3,223.3 73.3,225.8 80,227.5 86.7,228 93.3,229.7 100,231.7 105,231.7 110,228.7 116.7,224.5 123,220.8 128,215.8 133,212.5 138,208.3 143,200 148,191.7 153,188 158,186.7 164.7,185.8 171.3,186.3 178,188 184.7,189.2 191.3,190.3 198,192 204.7,194.2 211.3,195.8 218,196.7 223,195.8 228,192.5 233,186.7 238,178.3 241,173.3 246,167.5 251,163.3 256,161.7 261,159.2 266,155.8 270.2,153.3 274,153 276,158.3 278.5,166.7 281,175.8 283.5,184.2 286,190 289.3,196.7 294.3,202.5 299.3,206.5 304.3,210 311,213 316,214.2 321.8,213.7 326,210.8 331,206.7 336,202.5 341,199.2 344.3,197.2 349.2,196.3 353.3,190.8 358.3,184.2 363.3,178.3 368.3,170 373.7,160 376.7,151.7 381.7,140 386.7,130.5 392.3,123.3 398.2,115 404,107.5 409.8,103.3 415.7,99.7 421.5,96.7 427.3,93.3 434,89.2 440.7,81.3 445.7,75.8 449.8,70 454,63.3 458.2,55 462.3,45.8 466.5,37.5 470.7,30.8 474.8,26.7 478.3,25 485,23.3 491.7,22.5 498.3,21.7 505,20.8 510,20.3 513.3,18.7 517.5,17.2 523.3,16.7 530,17.5 536.7,18 543.3,17.7 548.3,18.3 553.3,20 558.3,21.7 562.5,24.2 566.7,26.7 570.8,28.7 575.8,29.2 580.8,28.3 586.7,25.3 591.7,22.8 595,21.3 600,19.2 605,17.5 609.2,17.2 613.3,19.2 618.3,20.3 623.3,20.8 628.3,19.7 633.3,18.3 638.3,16.3 642.5,13.3 646.7,10.5 653.3,10 659.7,10" fill="none" stroke="#00ff00" stroke-width="1.3" stroke-linejoin="round" stroke-linecap="round"/>
</g>
<g clip-path="url(#c1)"><g fill="#ff0000"><rect x="4.5" y="263.2" width="2.3" height="32.4"/><rect x="9.2" y="263.2" width="2.3" height="32.4"/><rect x="13.9" y="265.3" width="2.3" height="30.3"/><rect x="18.6" y="270" width="2.3" height="25.6"/><rect x="23.3" y="275" width="2.3" height="20.6"/><rect x="28" y="279" width="2.3" height="16.6"/><rect x="32.7" y="283" width="2.3" height="12.6"/><rect x="37.4" y="286.6" width="2.3" height="9"/><rect x="42.1" y="289" width="2.3" height="6.6"/><rect x="46.8" y="290.8" width="2.3" height="4.8"/><rect x="51.5" y="292.4" width="2.3" height="3.2"/><rect x="56.2" y="294.7" width="2.3" height="0.9"/><rect x="60.9" y="295.9" width="2.3" height="0.9"/><rect x="65.6" y="295.6" width="2.3" height="1.5"/><rect x="70.3" y="295.6" width="2.3" height="2.5"/><rect x="75" y="295.6" width="2.3" height="3.2"/><rect x="79.7" y="295.6" width="2.3" height="4.3"/><rect x="84.4" y="295.6" width="2.3" height="5.5"/><rect x="89.1" y="295.6" width="2.3" height="5.5"/><rect x="150.2" y="289.1" width="2.3" height="6.5"/><rect x="154.9" y="289.4" width="2.3" height="6.2"/><rect x="159.6" y="290.1" width="2.3" height="5.5"/><rect x="164.3" y="290.8" width="2.3" height="4.8"/><rect x="169" y="291.3" width="2.3" height="4.3"/><rect x="173.7" y="291.3" width="2.3" height="4.3"/><rect x="178.4" y="292.1" width="2.3" height="3.5"/><rect x="183.1" y="292.6" width="2.3" height="3"/><rect x="187.8" y="293.1" width="2.3" height="2.5"/><rect x="192.5" y="293.6" width="2.3" height="2"/><rect x="197.2" y="294.1" width="2.3" height="1.5"/><rect x="201.9" y="294.6" width="2.3" height="1"/><rect x="206.6" y="294.7" width="2.3" height="0.9"/><rect x="244.2" y="286.8" width="2.3" height="8.8"/><rect x="248.9" y="287.3" width="2.3" height="8.3"/><rect x="253.6" y="288" width="2.3" height="7.6"/><rect x="258.3" y="289" width="2.3" height="6.6"/><rect x="263" y="292.1" width="2.3" height="3.5"/><rect x="267.7" y="295.9" width="2.3" height="0.9"/><rect x="272.4" y="295.6" width="2.3" height="4.3"/><rect x="277.1" y="295.6" width="2.3" height="9.1"/><rect x="281.8" y="295.6" width="2.3" height="12.3"/><rect x="394.6" y="278.1" width="2.3" height="17.5"/><rect x="408.7" y="278.1" width="2.3" height="17.5"/><rect x="413.4" y="278.1" width="2.3" height="17.5"/><rect x="460.4" y="272" width="2.3" height="23.6"/><rect x="465.1" y="273.8" width="2.3" height="21.8"/><rect x="469.8" y="275.5" width="2.3" height="20.1"/><rect x="474.5" y="278.1" width="2.3" height="17.5"/><rect x="479.2" y="280.1" width="2.3" height="15.5"/><rect x="483.9" y="282" width="2.3" height="13.6"/><rect x="488.6" y="283.1" width="2.3" height="12.5"/><rect x="493.3" y="284.1" width="2.3" height="11.5"/><rect x="498" y="285" width="2.3" height="10.6"/><rect x="502.7" y="285.3" width="2.3" height="10.3"/><rect x="507.4" y="286" width="2.3" height="9.6"/><rect x="512.1" y="287.1" width="2.3" height="8.5"/><rect x="516.8" y="288.3" width="2.3" height="7.3"/><rect x="521.5" y="289" width="2.3" height="6.6"/><rect x="526.2" y="289.4" width="2.3" height="6.2"/><rect x="530.9" y="290.8" width="2.3" height="4.8"/><rect x="535.6" y="291.3" width="2.3" height="4.3"/><rect x="540.3" y="292.1" width="2.3" height="3.5"/><rect x="545" y="293.1" width="2.3" height="2.5"/><rect x="549.7" y="293.9" width="2.3" height="1.7"/><rect x="554.4" y="294.7" width="2.3" height="0.9"/><rect x="559.1" y="295.9" width="2.3" height="0.9"/><rect x="563.8" y="295.6" width="2.3" height="1.2"/><rect x="568.5" y="295.6" width="2.3" height="1.2"/><rect x="596.7" y="294.7" width="2.3" height="0.9"/><rect x="601.4" y="295.9" width="2.3" height="0.9"/><rect x="606.1" y="295.9" width="2.3" height="0.9"/><rect x="610.8" y="295.9" width="2.3" height="0.9"/><rect x="639" y="293.1" width="2.3" height="2.5"/></g><g fill="#008000"><rect x="-0.2" y="259.9" width="2.3" height="35.7"/><rect x="93.8" y="295.6" width="2.3" height="5.5"/><rect x="98.5" y="295.6" width="2.3" height="4.8"/><rect x="103.2" y="295.6" width="2.3" height="3.5"/><rect x="107.9" y="295.6" width="2.3" height="2"/><rect x="112.6" y="295.6" width="2.3" height="1"/><rect x="117.3" y="295.9" width="2.3" height="0.9"/><rect x="122" y="294.7" width="2.3" height="0.9"/><rect x="126.7" y="292.6" width="2.3" height="3"/><rect x="131.4" y="290.9" width="2.3" height="4.7"/><rect x="136.1" y="290.1" width="2.3" height="5.5"/><rect x="140.8" y="289.1" width="2.3" height="6.5"/><rect x="145.5" y="288.3" width="2.3" height="7.3"/><rect x="211.3" y="294.1" width="2.3" height="1.5"/><rect x="216" y="293.1" width="2.3" height="2.5"/><rect x="220.7" y="291.3" width="2.3" height="4.3"/><rect x="225.4" y="289.1" width="2.3" height="6.5"/><rect x="230.1" y="287.5" width="2.3" height="8.1"/><rect x="234.8" y="286.8" width="2.3" height="8.8"/><rect x="239.5" y="286.3" width="2.3" height="9.3"/><rect x="286.5" y="295.6" width="2.3" height="11.5"/><rect x="291.2" y="295.6" width="2.3" height="10"/><rect x="295.9" y="295.6" width="2.3" height="9"/><rect x="300.6" y="295.6" width="2.3" height="8.1"/><rect x="305.3" y="295.6" width="2.3" height="7.8"/><rect x="310" y="295.6" width="2.3" height="6.3"/><rect x="314.7" y="295.6" width="2.3" height="5.2"/><rect x="319.4" y="295.6" width="2.3" height="3.3"/><rect x="324.1" y="295.6" width="2.3" height="2"/><rect x="328.8" y="295.6" width="2.3" height="1"/><rect x="333.5" y="295.9" width="2.3" height="0.9"/><rect x="338.2" y="294.7" width="2.3" height="0.9"/><rect x="342.9" y="293.8" width="2.3" height="1.8"/><rect x="347.6" y="292.4" width="2.3" height="3.2"/><rect x="352.3" y="290.1" width="2.3" height="5.5"/><rect x="357" y="288" width="2.3" height="7.6"/><rect x="361.7" y="285.3" width="2.3" height="10.3"/><rect x="366.4" y="283.3" width="2.3" height="12.3"/><rect x="371.1" y="281.1" width="2.3" height="14.5"/><rect x="375.8" y="279.3" width="2.3" height="16.3"/><rect x="380.5" y="278.5" width="2.3" height="17.1"/><rect x="385.2" y="278.1" width="2.3" height="17.5"/><rect x="389.9" y="278.1" width="2.3" height="17.5"/><rect x="399.3" y="278.1" width="2.3" height="17.5"/><rect x="404" y="278.1" width="2.3" height="17.5"/><rect x="418.1" y="278.1" width="2.3" height="17.5"/><rect x="422.8" y="278.1" width="2.3" height="17.5"/><rect x="427.5" y="278.1" width="2.3" height="17.5"/><rect x="432.2" y="278.1" width="2.3" height="17.5"/><rect x="436.9" y="277" width="2.3" height="18.6"/><rect x="441.6" y="275.5" width="2.3" height="20.1"/><rect x="446.3" y="274" width="2.3" height="21.6"/><rect x="451" y="272.7" width="2.3" height="22.9"/><rect x="455.7" y="272" width="2.3" height="23.6"/><rect x="573.2" y="295.9" width="2.3" height="0.9"/><rect x="577.9" y="295.9" width="2.3" height="0.9"/><rect x="582.6" y="294.7" width="2.3" height="0.9"/><rect x="587.3" y="294.5" width="2.3" height="1.1"/><rect x="592" y="294.6" width="2.3" height="1"/><rect x="615.5" y="295.9" width="2.3" height="0.9"/><rect x="620.2" y="295.9" width="2.3" height="0.9"/><rect x="624.9" y="294.7" width="2.3" height="0.9"/><rect x="629.6" y="292.9" width="2.3" height="2.7"/><rect x="634.3" y="293.1" width="2.3" height="2.5"/><rect x="643.7" y="292.3" width="2.3" height="3.3"/></g></g>
<g clip-path="url(#c2)"><g fill="#ff0000"><rect x="4.5" y="336.8" width="2.3" height="0.9"/><rect x="9.2" y="336.5" width="2.3" height="5.8"/><rect x="13.9" y="336.5" width="2.3" height="13.3"/><rect x="18.6" y="336.5" width="2.3" height="22.8"/><rect x="23.3" y="336.5" width="2.3" height="29.4"/><rect x="28" y="336.5" width="2.3" height="31.2"/><rect x="84.4" y="336.5" width="2.3" height="6.5"/><rect x="117.3" y="329" width="2.3" height="7.5"/><rect x="136.1" y="326" width="2.3" height="10.5"/><rect x="140.8" y="327.2" width="2.3" height="9.3"/><rect x="145.5" y="329.5" width="2.3" height="7"/><rect x="150.2" y="335.2" width="2.3" height="1.3"/><rect x="154.9" y="336.5" width="2.3" height="2.5"/><rect x="159.6" y="336.5" width="2.3" height="3.6"/><rect x="164.3" y="336.5" width="2.3" height="4.1"/><rect x="183.1" y="336.5" width="2.3" height="3"/><rect x="187.8" y="336.5" width="2.3" height="3.3"/><rect x="192.5" y="336.5" width="2.3" height="4.3"/><rect x="234.8" y="325.4" width="2.3" height="11.1"/><rect x="239.5" y="329.5" width="2.3" height="7"/><rect x="244.2" y="334" width="2.3" height="2.5"/><rect x="248.9" y="336.5" width="2.3" height="2.5"/><rect x="253.6" y="336.5" width="2.3" height="3"/><rect x="258.3" y="336.5" width="2.3" height="4.5"/><rect x="263" y="336.5" width="2.3" height="12.8"/><rect x="267.7" y="336.5" width="2.3" height="19.3"/><rect x="272.4" y="336.5" width="2.3" height="25.3"/><rect x="277.1" y="336.5" width="2.3" height="29.4"/><rect x="305.3" y="330.7" width="2.3" height="5.8"/><rect x="328.8" y="326.2" width="2.3" height="10.3"/><rect x="333.5" y="329.4" width="2.3" height="7.1"/><rect x="338.2" y="329.5" width="2.3" height="7"/><rect x="375.8" y="322.4" width="2.3" height="14.1"/><rect x="380.5" y="326.2" width="2.3" height="10.3"/><rect x="385.2" y="329.5" width="2.3" height="7"/><rect x="389.9" y="333.2" width="2.3" height="3.3"/><rect x="394.6" y="335.2" width="2.3" height="1.3"/><rect x="399.3" y="336.8" width="2.3" height="0.9"/><rect x="404" y="336.8" width="2.3" height="0.9"/><rect x="408.7" y="336.8" width="2.3" height="0.9"/><rect x="413.4" y="336.8" width="2.3" height="0.9"/><rect x="455.7" y="328.4" width="2.3" height="8.1"/><rect x="460.4" y="332.3" width="2.3" height="4.2"/><rect x="465.1" y="336.5" width="2.3" height="2.8"/><rect x="469.8" y="336.5" width="2.3" height="8.6"/><rect x="474.5" y="336.5" width="2.3" height="12.1"/><rect x="479.2" y="336.5" width="2.3" height="14.5"/><rect x="512.1" y="336.5" width="2.3" height="5.2"/><rect x="516.8" y="336.5" width="2.3" height="5.8"/><rect x="521.5" y="336.5" width="2.3" height="6.3"/><rect x="530.9" y="336.5" width="2.3" height="6"/><rect x="545" y="336.5" width="2.3" height="5.3"/><rect x="549.7" y="336.5" width="2.3" height="7.1"/><rect x="554.4" y="336.5" width="2.3" height="8.3"/><rect x="559.1" y="336.5" width="2.3" height="8.6"/><rect x="587.3" y="332" width="2.3" height="4.5"/><rect x="592" y="333.7" width="2.3" height="2.8"/><rect x="596.7" y="336.8" width="2.3" height="0.9"/><rect x="601.4" y="336.5" width="2.3" height="2.3"/><rect x="606.1" y="336.5" width="2.3" height="3"/><rect x="634.3" y="330.7" width="2.3" height="5.8"/><rect x="639" y="332.8" width="2.3" height="3.7"/><rect x="643.7" y="334" width="2.3" height="2.5"/></g><g fill="#008000"><rect x="-0.2" y="335.6" width="2.3" height="0.9"/><rect x="32.7" y="336.5" width="2.3" height="30.1"/><rect x="37.4" y="336.5" width="2.3" height="27.1"/><rect x="42.1" y="336.5" width="2.3" height="22.8"/><rect x="46.8" y="336.5" width="2.3" height="18.5"/><rect x="51.5" y="336.5" width="2.3" height="14.5"/><rect x="56.2" y="336.5" width="2.3" height="13.1"/><rect x="60.9" y="336.5" width="2.3" height="11.6"/><rect x="65.6" y="336.5" width="2.3" height="10.3"/><rect x="70.3" y="336.5" width="2.3" height="8.6"/><rect x="75" y="336.5" width="2.3" height="7.1"/><rect x="79.7" y="336.5" width="2.3" height="6"/><rect x="89.1" y="336.5" width="2.3" height="5.2"/><rect x="93.8" y="336.5" width="2.3" height="2.5"/><rect x="98.5" y="335.6" width="2.3" height="0.9"/><rect x="103.2" y="332.2" width="2.3" height="4.3"/><rect x="107.9" y="328.7" width="2.3" height="7.8"/><rect x="112.6" y="327.4" width="2.3" height="9.1"/><rect x="122" y="329" width="2.3" height="7.5"/><rect x="126.7" y="326.7" width="2.3" height="9.8"/><rect x="131.4" y="325.5" width="2.3" height="11"/><rect x="169" y="336.5" width="2.3" height="3.5"/><rect x="173.7" y="336.5" width="2.3" height="3"/><rect x="178.4" y="336.5" width="2.3" height="2.8"/><rect x="197.2" y="336.5" width="2.3" height="4.1"/><rect x="201.9" y="336.5" width="2.3" height="4.1"/><rect x="206.6" y="336.5" width="2.3" height="2.5"/><rect x="211.3" y="335.3" width="2.3" height="1.2"/><rect x="216" y="332.7" width="2.3" height="3.8"/><rect x="220.7" y="329.4" width="2.3" height="7.1"/><rect x="225.4" y="325.2" width="2.3" height="11.3"/><rect x="230.1" y="324" width="2.3" height="12.5"/><rect x="281.8" y="336.5" width="2.3" height="27.4"/><rect x="286.5" y="336.5" width="2.3" height="14.1"/><rect x="291.2" y="336.5" width="2.3" height="3.5"/><rect x="295.9" y="332" width="2.3" height="4.5"/><rect x="300.6" y="329.4" width="2.3" height="7.1"/><rect x="310" y="329.7" width="2.3" height="6.8"/><rect x="314.7" y="328" width="2.3" height="8.5"/><rect x="319.4" y="326.7" width="2.3" height="9.8"/><rect x="324.1" y="326.2" width="2.3" height="10.3"/><rect x="342.9" y="329.2" width="2.3" height="7.3"/><rect x="347.6" y="328.4" width="2.3" height="8.1"/><rect x="352.3" y="326.2" width="2.3" height="10.3"/><rect x="357" y="322" width="2.3" height="14.5"/><rect x="361.7" y="320.9" width="2.3" height="15.6"/><rect x="366.4" y="320.4" width="2.3" height="16.1"/><rect x="371.1" y="319.5" width="2.3" height="17"/><rect x="418.1" y="335.6" width="2.3" height="0.9"/><rect x="422.8" y="335.6" width="2.3" height="0.9"/><rect x="427.5" y="335.6" width="2.3" height="0.9"/><rect x="432.2" y="335.6" width="2.3" height="0.9"/><rect x="436.9" y="334.3" width="2.3" height="2.2"/><rect x="441.6" y="330.7" width="2.3" height="5.8"/><rect x="446.3" y="328.5" width="2.3" height="8"/><rect x="451" y="327.2" width="2.3" height="9.3"/><rect x="483.9" y="336.5" width="2.3" height="13.8"/><rect x="488.6" y="336.5" width="2.3" height="11.6"/><rect x="493.3" y="336.5" width="2.3" height="10.3"/><rect x="498" y="336.5" width="2.3" height="7.5"/><rect x="502.7" y="336.5" width="2.3" height="5.8"/><rect x="507.4" y="336.5" width="2.3" height="5.2"/><rect x="526.2" y="336.5" width="2.3" height="6"/><rect x="535.6" y="336.5" width="2.3" height="5.3"/><rect x="540.3" y="336.5" width="2.3" height="4.7"/><rect x="563.8" y="336.5" width="2.3" height="7.1"/><rect x="568.5" y="336.5" width="2.3" height="4.1"/><rect x="573.2" y="335.6" width="2.3" height="0.9"/><rect x="577.9" y="333.2" width="2.3" height="3.3"/><rect x="582.6" y="332" width="2.3" height="4.5"/><rect x="610.8" y="336.5" width="2.3" height="1.8"/><rect x="615.5" y="336.8" width="2.3" height="0.9"/><rect x="620.2" y="335.6" width="2.3" height="0.9"/><rect x="624.9" y="332.3" width="2.3" height="4.2"/><rect x="629.6" y="330.2" width="2.3" height="6.3"/></g></g>
<g clip-path="url(#c3)"><g fill="#ff0000"><rect x="-0.2" y="379.9" width="2.3" height="27"/><rect x="-0.2" y="406.9" width="2.3" height="20"/><rect x="4.5" y="382.9" width="2.3" height="24"/><rect x="9.2" y="382.9" width="2.3" height="24"/><rect x="13.9" y="406.9" width="2.3" height="20"/><rect x="18.6" y="406.9" width="2.3" height="20"/><rect x="23.3" y="406.9" width="2.3" height="20"/><rect x="28" y="382.9" width="2.3" height="24"/><rect x="28" y="406.9" width="2.3" height="10"/><rect x="32.7" y="383.6" width="2.3" height="23.3"/><rect x="32.7" y="406.9" width="2.3" height="7"/><rect x="37.4" y="386.4" width="2.3" height="20.5"/><rect x="37.4" y="406.9" width="2.3" height="4.2"/><rect x="42.1" y="388.6" width="2.3" height="18.3"/><rect x="42.1" y="406.9" width="2.3" height="1"/><rect x="46.8" y="391.9" width="2.3" height="15"/><rect x="51.5" y="394.9" width="2.3" height="12"/><rect x="56.2" y="396.9" width="2.3" height="10"/><rect x="60.9" y="398.9" width="2.3" height="8"/><rect x="65.6" y="399.7" width="2.3" height="7.2"/><rect x="70.3" y="400.6" width="2.3" height="6.3"/><rect x="75" y="401.7" width="2.3" height="5.2"/><rect x="75" y="406.9" width="2.3" height="3.7"/><rect x="79.7" y="402.9" width="2.3" height="4"/><rect x="79.7" y="406.9" width="2.3" height="3"/><rect x="84.4" y="403.2" width="2.3" height="3.7"/><rect x="84.4" y="406.9" width="2.3" height="2.5"/><rect x="89.1" y="403.9" width="2.3" height="3"/><rect x="89.1" y="406.9" width="2.3" height="2"/><rect x="103.2" y="404.6" width="2.3" height="2.3"/><rect x="103.2" y="406.9" width="2.3" height="2.3"/><rect x="107.9" y="406.1" width="2.3" height="0.8"/><rect x="107.9" y="406.9" width="2.3" height="0.8"/><rect x="112.6" y="405.9" width="2.3" height="1"/><rect x="112.6" y="406.9" width="2.3" height="0.7"/><rect x="131.4" y="406.9" width="2.3" height="3.7"/><rect x="150.2" y="406.9" width="2.3" height="7.8"/><rect x="154.9" y="406.9" width="2.3" height="6.3"/><rect x="159.6" y="406.9" width="2.3" height="5"/><rect x="164.3" y="399.1" width="2.3" height="7.8"/><rect x="164.3" y="406.9" width="2.3" height="3.8"/><rect x="169" y="400.3" width="2.3" height="6.6"/><rect x="169" y="406.9" width="2.3" height="3.3"/><rect x="173.7" y="401.4" width="2.3" height="5.5"/><rect x="173.7" y="406.9" width="2.3" height="2.5"/><rect x="178.4" y="401.9" width="2.3" height="5"/><rect x="178.4" y="406.9" width="2.3" height="2"/><rect x="183.1" y="402.2" width="2.3" height="4.7"/><rect x="183.1" y="406.9" width="2.3" height="1.3"/><rect x="187.8" y="403.1" width="2.3" height="3.8"/><rect x="187.8" y="406.9" width="2.3" height="1"/><rect x="192.5" y="403.2" width="2.3" height="3.7"/><rect x="192.5" y="406.9" width="2.3" height="0.7"/><rect x="197.2" y="403.6" width="2.3" height="3.3"/><rect x="197.2" y="406.9" width="2.3" height="0.5"/><rect x="201.9" y="404.4" width="2.3" height="2.5"/><rect x="206.6" y="404.9" width="2.3" height="2"/><rect x="211.3" y="405.6" width="2.3" height="1.3"/><rect x="211.3" y="406.9" width="2.3" height="1"/><rect x="216" y="406.1" width="2.3" height="0.8"/><rect x="220.7" y="406.2" width="2.3" height="0.7"/><rect x="220.7" y="406.9" width="2.3" height="0.7"/><rect x="248.9" y="406.9" width="2.3" height="7.6"/><rect x="253.6" y="406.9" width="2.3" height="5.8"/><rect x="258.3" y="406.9" width="2.3" height="5.3"/><rect x="263" y="399.9" width="2.3" height="7"/><rect x="267.7" y="400.6" width="2.3" height="6.3"/><rect x="272.4" y="400.6" width="2.3" height="6.3"/><rect x="272.4" y="406.9" width="2.3" height="5.3"/><rect x="277.1" y="406.9" width="2.3" height="2.3"/><rect x="281.8" y="400.6" width="2.3" height="6.3"/><rect x="286.5" y="404.9" width="2.3" height="2"/><rect x="291.2" y="406.1" width="2.3" height="0.8"/><rect x="295.9" y="406.9" width="2.3" height="8"/><rect x="300.6" y="406.9" width="2.3" height="6.6"/><rect x="305.3" y="401.1" width="2.3" height="5.8"/><rect x="305.3" y="406.9" width="2.3" height="6.6"/><rect x="310" y="401.9" width="2.3" height="5"/><rect x="310" y="406.9" width="2.3" height="5.8"/><rect x="314.7" y="402.2" width="2.3" height="4.7"/><rect x="314.7" y="406.9" width="2.3" height="5.3"/><rect x="319.4" y="402.2" width="2.3" height="4.7"/><rect x="319.4" y="406.9" width="2.3" height="4.7"/><rect x="324.1" y="402.2" width="2.3" height="4.7"/><rect x="324.1" y="406.9" width="2.3" height="2.3"/><rect x="328.8" y="403.1" width="2.3" height="3.8"/><rect x="328.8" y="406.9" width="2.3" height="0.8"/><rect x="333.5" y="404.4" width="2.3" height="2.5"/><rect x="338.2" y="405.6" width="2.3" height="1.3"/><rect x="347.6" y="406.9" width="2.3" height="1.5"/><rect x="389.9" y="406.9" width="2.3" height="12.5"/><rect x="394.6" y="406.9" width="2.3" height="12"/><rect x="399.3" y="394.8" width="2.3" height="12.1"/><rect x="404" y="394.8" width="2.3" height="12.1"/><rect x="404" y="406.9" width="2.3" height="11.6"/><rect x="408.7" y="406.9" width="2.3" height="10.8"/><rect x="413.4" y="406.9" width="2.3" height="9.5"/><rect x="418.1" y="394.1" width="2.3" height="12.8"/><rect x="418.1" y="406.9" width="2.3" height="9"/><rect x="422.8" y="394.8" width="2.3" height="12.1"/><rect x="427.5" y="395.3" width="2.3" height="11.6"/><rect x="427.5" y="406.9" width="2.3" height="8.8"/><rect x="432.2" y="406.9" width="2.3" height="8.3"/><rect x="436.9" y="395.3" width="2.3" height="11.6"/><rect x="441.6" y="395.3" width="2.3" height="11.6"/><rect x="469.8" y="406.9" width="2.3" height="12.5"/><rect x="474.5" y="406.9" width="2.3" height="11.6"/><rect x="479.2" y="406.9" width="2.3" height="10"/><rect x="483.9" y="389.9" width="2.3" height="17"/><rect x="483.9" y="406.9" width="2.3" height="9.1"/><rect x="488.6" y="391.1" width="2.3" height="15.8"/><rect x="488.6" y="406.9" width="2.3" height="8.3"/><rect x="493.3" y="392.3" width="2.3" height="14.6"/><rect x="493.3" y="406.9" width="2.3" height="6.6"/><rect x="498" y="393.3" width="2.3" height="13.6"/><rect x="498" y="406.9" width="2.3" height="5.8"/><rect x="502.7" y="394.1" width="2.3" height="12.8"/><rect x="502.7" y="406.9" width="2.3" height="5.5"/><rect x="507.4" y="395.3" width="2.3" height="11.6"/><rect x="507.4" y="406.9" width="2.3" height="5"/><rect x="512.1" y="396.1" width="2.3" height="10.8"/><rect x="516.8" y="396.4" width="2.3" height="10.5"/><rect x="516.8" y="406.9" width="2.3" height="5"/><rect x="521.5" y="396.4" width="2.3" height="10.5"/><rect x="521.5" y="406.9" width="2.3" height="4.7"/><rect x="526.2" y="396.9" width="2.3" height="10"/><rect x="526.2" y="406.9" width="2.3" height="3.7"/><rect x="530.9" y="396.9" width="2.3" height="10"/><rect x="530.9" y="406.9" width="2.3" height="3"/><rect x="535.6" y="398.1" width="2.3" height="8.8"/><rect x="535.6" y="406.9" width="2.3" height="2.3"/><rect x="540.3" y="399.4" width="2.3" height="7.5"/><rect x="545" y="399.9" width="2.3" height="7"/><rect x="545" y="406.9" width="2.3" height="2"/><rect x="549.7" y="400.3" width="2.3" height="6.6"/><rect x="549.7" y="406.9" width="2.3" height="1.3"/><rect x="554.4" y="400.8" width="2.3" height="6.1"/><rect x="554.4" y="406.9" width="2.3" height="1"/><rect x="559.1" y="401.4" width="2.3" height="5.5"/><rect x="559.1" y="406.9" width="2.3" height="0.7"/><rect x="563.8" y="402.2" width="2.3" height="4.7"/><rect x="568.5" y="403.1" width="2.3" height="3.8"/><rect x="573.2" y="404.1" width="2.3" height="2.8"/><rect x="577.9" y="404.7" width="2.3" height="2.2"/><rect x="577.9" y="406.9" width="2.3" height="1.3"/><rect x="582.6" y="406.1" width="2.3" height="0.8"/><rect x="582.6" y="406.9" width="2.3" height="0.8"/><rect x="596.7" y="406.9" width="2.3" height="2"/><rect x="610.8" y="403.2" width="2.3" height="3.7"/><rect x="610.8" y="406.9" width="2.3" height="1.3"/><rect x="615.5" y="406.9" width="2.3" height="0.8"/><rect x="620.2" y="404.1" width="2.3" height="2.8"/><rect x="624.9" y="405.2" width="2.3" height="1.7"/><rect x="629.6" y="406.1" width="2.3" height="0.8"/><rect x="634.3" y="406.9" width="2.3" height="1.2"/><rect x="648.4" y="406.9" width="2.3" height="3.7"/><rect x="653.1" y="406.9" width="2.3" height="2"/><rect x="657.8" y="406.9" width="2.3" height="2"/><rect x="662.5" y="403.2" width="2.3" height="3.7"/><rect x="667.2" y="404.7" width="2.3" height="2.2"/></g><g fill="#008000"><rect x="4.5" y="406.9" width="2.3" height="20"/><rect x="9.2" y="406.9" width="2.3" height="20"/><rect x="13.9" y="382.9" width="2.3" height="24"/><rect x="18.6" y="382.9" width="2.3" height="24"/><rect x="23.3" y="382.9" width="2.3" height="24"/><rect x="46.8" y="406.9" width="2.3" height="1.3"/><rect x="51.5" y="406.9" width="2.3" height="2"/><rect x="56.2" y="406.9" width="2.3" height="2.5"/><rect x="60.9" y="406.9" width="2.3" height="3.3"/><rect x="65.6" y="406.9" width="2.3" height="3.8"/><rect x="70.3" y="406.9" width="2.3" height="4.3"/><rect x="93.8" y="403.2" width="2.3" height="3.7"/><rect x="93.8" y="406.9" width="2.3" height="3.2"/><rect x="98.5" y="404.1" width="2.3" height="2.8"/><rect x="98.5" y="406.9" width="2.3" height="3.2"/><rect x="117.3" y="405.2" width="2.3" height="1.7"/><rect x="117.3" y="406.9" width="2.3" height="2"/><rect x="122" y="404.7" width="2.3" height="2.2"/><rect x="122" y="406.9" width="2.3" height="3"/><rect x="126.7" y="404.4" width="2.3" height="2.5"/><rect x="126.7" y="406.9" width="2.3" height="3.7"/><rect x="131.4" y="403.1" width="2.3" height="3.8"/><rect x="136.1" y="402.4" width="2.3" height="4.5"/><rect x="136.1" y="406.9" width="2.3" height="3.7"/><rect x="140.8" y="402.4" width="2.3" height="4.5"/><rect x="140.8" y="406.9" width="2.3" height="6.6"/><rect x="145.5" y="402.4" width="2.3" height="4.5"/><rect x="145.5" y="406.9" width="2.3" height="8.6"/><rect x="150.2" y="400.9" width="2.3" height="6"/><rect x="154.9" y="399.1" width="2.3" height="7.8"/><rect x="159.6" y="398.3" width="2.3" height="8.6"/><rect x="201.9" y="406.9" width="2.3" height="0.8"/><rect x="206.6" y="406.9" width="2.3" height="1.2"/><rect x="216" y="406.9" width="2.3" height="1.2"/><rect x="225.4" y="406.6" width="2.3" height="0.3"/><rect x="225.4" y="406.9" width="2.3" height="2"/><rect x="230.1" y="406.1" width="2.3" height="0.8"/><rect x="230.1" y="406.9" width="2.3" height="3"/><rect x="234.8" y="404.9" width="2.3" height="2"/><rect x="234.8" y="406.9" width="2.3" height="4.7"/><rect x="239.5" y="403.6" width="2.3" height="3.3"/><rect x="239.5" y="406.9" width="2.3" height="6.6"/><rect x="244.2" y="402.4" width="2.3" height="4.5"/><rect x="244.2" y="406.9" width="2.3" height="7.5"/><rect x="248.9" y="400.6" width="2.3" height="6.3"/><rect x="253.6" y="399.4" width="2.3" height="7.5"/><rect x="258.3" y="399.4" width="2.3" height="7.5"/><rect x="263" y="406.9" width="2.3" height="5.3"/><rect x="267.7" y="406.9" width="2.3" height="5.8"/><rect x="277.1" y="400.1" width="2.3" height="6.8"/><rect x="281.8" y="406.9" width="2.3" height="8"/><rect x="286.5" y="406.9" width="2.3" height="9.5"/><rect x="291.2" y="406.9" width="2.3" height="9.5"/><rect x="295.9" y="401.9" width="2.3" height="5"/><rect x="300.6" y="401.1" width="2.3" height="5.8"/><rect x="333.5" y="406.9" width="2.3" height="1"/><rect x="338.2" y="406.9" width="2.3" height="1"/><rect x="342.9" y="406.4" width="2.3" height="0.5"/><rect x="342.9" y="406.9" width="2.3" height="1.7"/><rect x="352.3" y="406.9" width="2.3" height="3.3"/><rect x="357" y="406.7" width="2.3" height="0.2"/><rect x="357" y="406.9" width="2.3" height="5.8"/><rect x="361.7" y="405.2" width="2.3" height="1.7"/><rect x="361.7" y="406.9" width="2.3" height="6.6"/><rect x="366.4" y="404.1" width="2.3" height="2.8"/><rect x="366.4" y="406.9" width="2.3" height="7.8"/><rect x="371.1" y="402.2" width="2.3" height="4.7"/><rect x="371.1" y="406.9" width="2.3" height="10"/><rect x="375.8" y="401.9" width="2.3" height="5"/><rect x="375.8" y="406.9" width="2.3" height="12"/><rect x="380.5" y="399.9" width="2.3" height="7"/><rect x="380.5" y="406.9" width="2.3" height="14"/><rect x="385.2" y="397.4" width="2.3" height="9.5"/><rect x="385.2" y="406.9" width="2.3" height="14"/><rect x="389.9" y="395.3" width="2.3" height="11.6"/><rect x="394.6" y="394.1" width="2.3" height="12.8"/><rect x="399.3" y="406.9" width="2.3" height="12"/><rect x="408.7" y="394.1" width="2.3" height="12.8"/><rect x="413.4" y="394.1" width="2.3" height="12.8"/><rect x="422.8" y="406.9" width="2.3" height="9.1"/><rect x="432.2" y="395.3" width="2.3" height="11.6"/><rect x="436.9" y="406.9" width="2.3" height="8.6"/><rect x="441.6" y="406.9" width="2.3" height="9.5"/><rect x="446.3" y="395.3" width="2.3" height="11.6"/><rect x="446.3" y="406.9" width="2.3" height="10"/><rect x="451" y="394.8" width="2.3" height="12.1"/><rect x="451" y="406.9" width="2.3" height="10.8"/><rect x="455.7" y="394.1" width="2.3" height="12.8"/><rect x="455.7" y="406.9" width="2.3" height="12"/><rect x="460.4" y="393.1" width="2.3" height="13.8"/><rect x="460.4" y="406.9" width="2.3" height="14"/><rect x="465.1" y="391.9" width="2.3" height="15"/><rect x="465.1" y="406.9" width="2.3" height="14"/><rect x="469.8" y="390.3" width="2.3" height="16.6"/><rect x="474.5" y="389.4" width="2.3" height="17.5"/><rect x="479.2" y="389.1" width="2.3" height="17.8"/><rect x="512.1" y="406.9" width="2.3" height="5.3"/><rect x="540.3" y="406.9" width="2.3" height="2.5"/><rect x="563.8" y="406.9" width="2.3" height="1.2"/><rect x="568.5" y="406.9" width="2.3" height="2.5"/><rect x="573.2" y="406.9" width="2.3" height="2.5"/><rect x="587.3" y="405.2" width="2.3" height="1.7"/><rect x="587.3" y="406.9" width="2.3" height="2"/><rect x="592" y="404.7" width="2.3" height="2.2"/><rect x="592" y="406.9" width="2.3" height="2"/><rect x="596.7" y="404.1" width="2.3" height="2.8"/><rect x="601.4" y="403.2" width="2.3" height="3.7"/><rect x="601.4" y="406.9" width="2.3" height="2.5"/><rect x="606.1" y="403.2" width="2.3" height="3.7"/><rect x="606.1" y="406.9" width="2.3" height="2.5"/><rect x="615.5" y="403.2" width="2.3" height="3.7"/><rect x="620.2" y="406.9" width="2.3" height="0.8"/><rect x="624.9" y="406.9" width="2.3" height="1.2"/><rect x="629.6" y="406.9" width="2.3" height="1.7"/><rect x="634.3" y="405.2" width="2.3" height="1.7"/><rect x="639" y="404.7" width="2.3" height="2.2"/><rect x="639" y="406.9" width="2.3" height="2"/><rect x="643.7" y="404.4" width="2.3" height="2.5"/><rect x="643.7" y="406.9" width="2.3" height="3.7"/><rect x="648.4" y="404.9" width="2.3" height="2"/><rect x="653.1" y="403.6" width="2.3" height="3.3"/><rect x="657.8" y="403.2" width="2.3" height="3.7"/></g></g>
<rect x="1.15" y="0" width="0.9" height="420" fill="#3c3c3c"/>
<rect x="2.05" y="260" width="0.6" height="35.6" fill="#008000" opacity="0.75"/>
<rect x="2.05" y="380" width="0.7" height="40" fill="#ff0000" opacity="0.8"/>
<rect x="2.05" y="336" width="0.7" height="0.9" fill="#008000" opacity="0.8"/>
<rect x="720.8" y="0" width="1.35" height="420" fill="#626262"/>
<rect x="1.15" y="252.7" width="720.75" height="2.2" fill="#545454"/>
<rect x="721.4" y="252.5" width="2" height="0.6" fill="#555"/>
<rect x="721.4" y="254.7" width="2" height="0.6" fill="#555"/>
<rect x="1.15" y="312.7" width="720.75" height="2.2" fill="#545454"/>
<rect x="721.4" y="312.5" width="2" height="0.6" fill="#555"/>
<rect x="721.4" y="314.7" width="2" height="0.6" fill="#555"/>
<rect x="1.15" y="372.8" width="720.75" height="2.2" fill="#545454"/>
<rect x="721.4" y="372.6" width="2" height="0.6" fill="#555"/>
<rect x="721.4" y="374.8" width="2" height="0.6" fill="#555"/>
</g>
<g filter="url(#bl2)">
<rect x="721.6" y="21.8" width="2.2" height="0.8" fill="#3a3a3a"/>
<text stroke="#000" stroke-width="0.22" x="724.6" y="24.4" font-size="6.2" fill="#000" text-anchor="start" textLength="18.7" lengthAdjust="spacingAndGlyphs">1.35630</text>
<rect x="721.6" y="41.32" width="2.2" height="0.8" fill="#3a3a3a"/>
<text stroke="#000" stroke-width="0.22" x="724.6" y="43.92" font-size="6.2" fill="#000" text-anchor="start" textLength="18.7" lengthAdjust="spacingAndGlyphs">1.35475</text>
<rect x="721.6" y="60.54" width="2.2" height="0.8" fill="#3a3a3a"/>
<text stroke="#000" stroke-width="0.22" x="724.6" y="63.14" font-size="6.2" fill="#000" text-anchor="start" textLength="18.7" lengthAdjust="spacingAndGlyphs">1.35320</text>
<rect x="721.6" y="79.76" width="2.2" height="0.8" fill="#3a3a3a"/>
<text stroke="#000" stroke-width="0.22" x="724.6" y="82.36" font-size="6.2" fill="#000" text-anchor="start" textLength="18.7" lengthAdjust="spacingAndGlyphs">1.35165</text>
<rect x="721.6" y="98.98" width="2.2" height="0.8" fill="#3a3a3a"/>
<text stroke="#000" stroke-width="0.22" x="724.6" y="101.58" font-size="6.2" fill="#000" text-anchor="start" textLength="18.7" lengthAdjust="spacingAndGlyphs">1.35010</text>
<rect x="721.6" y="118.2" width="2.2" height="0.8" fill="#3a3a3a"/>
<text stroke="#000" stroke-width="0.22" x="724.6" y="120.8" font-size="6.2" fill="#000" text-anchor="start" textLength="18.7" lengthAdjust="spacingAndGlyphs">1.34855</text>
<rect x="721.6" y="137.42" width="2.2" height="0.8" fill="#3a3a3a"/>
<text stroke="#000" stroke-width="0.22" x="724.6" y="140.02" font-size="6.2" fill="#000" text-anchor="start" textLength="18.7" lengthAdjust="spacingAndGlyphs">1.34700</text>
<rect x="721.6" y="156.64" width="2.2" height="0.8" fill="#3a3a3a"/>
<text stroke="#000" stroke-width="0.22" x="724.6" y="159.24" font-size="6.2" fill="#000" text-anchor="start" textLength="18.7" lengthAdjust="spacingAndGlyphs">1.34545</text>
<rect x="721.6" y="175.86" width="2.2" height="0.8" fill="#3a3a3a"/>
<text stroke="#000" stroke-width="0.22" x="724.6" y="178.46" font-size="6.2" fill="#000" text-anchor="start" textLength="18.7" lengthAdjust="spacingAndGlyphs">1.34390</text>
<rect x="721.6" y="195.08" width="2.2" height="0.8" fill="#3a3a3a"/>
<text stroke="#000" stroke-width="0.22" x="724.6" y="197.68" font-size="6.2" fill="#000" text-anchor="start" textLength="18.7" lengthAdjust="spacingAndGlyphs">1.34235</text>
<rect x="721.6" y="214.3" width="2.2" height="0.8" fill="#3a3a3a"/>
<text stroke="#000" stroke-width="0.22" x="724.6" y="216.9" font-size="6.2" fill="#000" text-anchor="start" textLength="18.7" lengthAdjust="spacingAndGlyphs">1.34080</text>
<rect x="721.6" y="233.52" width="2.2" height="0.8" fill="#3a3a3a"/>
<text stroke="#000" stroke-width="0.22" x="724.6" y="236.12" font-size="6.2" fill="#000" text-anchor="start" textLength="18.7" lengthAdjust="spacingAndGlyphs">1.33925</text>
<rect x="722.9" y="-1" width="22.9" height="5.75" fill="#d40000"/>
<text stroke="#fff" stroke-width="0.22" x="725" y="3.75" font-size="6.2" fill="#fff" text-anchor="start" textLength="18.4" lengthAdjust="spacingAndGlyphs">1.35795</text>
<text stroke="#000" stroke-width="0.22" x="723.9" y="259.6" font-size="6.2" fill="#000" text-anchor="start" textLength="22" lengthAdjust="spacingAndGlyphs">0.013516</text>
<text stroke="#000" stroke-width="0.22" x="723.9" y="311.8" font-size="6.2" fill="#000" text-anchor="start" textLength="23.8" lengthAdjust="spacingAndGlyphs">-0.005483</text>
<text stroke="#000" stroke-width="0.22" x="723.9" y="319.6" font-size="6.2" fill="#000" text-anchor="start" textLength="25.4" lengthAdjust="spacingAndGlyphs">0.0020404</text>
<text stroke="#000" stroke-width="0.22" x="723.9" y="371.8" font-size="6.2" fill="#000" text-anchor="start" textLength="27.4" lengthAdjust="spacingAndGlyphs">-0.0033516</text>
<text stroke="#000" stroke-width="0.22" x="723.9" y="379.6" font-size="6.2" fill="#000" text-anchor="start" textLength="22" lengthAdjust="spacingAndGlyphs">0.006689</text>
<text stroke="#000" stroke-width="0.22" x="3.7" y="262" font-size="6.2" fill="#000" text-anchor="start" textLength="42" lengthAdjust="spacingAndGlyphs">AOcust 0.001114</text>
<text stroke="#000" stroke-width="0.22" x="3.7" y="322" font-size="6.2" fill="#000" text-anchor="start" textLength="44.2" lengthAdjust="spacingAndGlyphs">ACcust 0.0002146</text>
<text stroke="#000" stroke-width="0.22" x="3.7" y="381.8" font-size="6.2" fill="#000" text-anchor="start" textLength="74" lengthAdjust="spacingAndGlyphs">GatorCust 0.000580 -0.000283</text>
</g>
</svg></body></html>
